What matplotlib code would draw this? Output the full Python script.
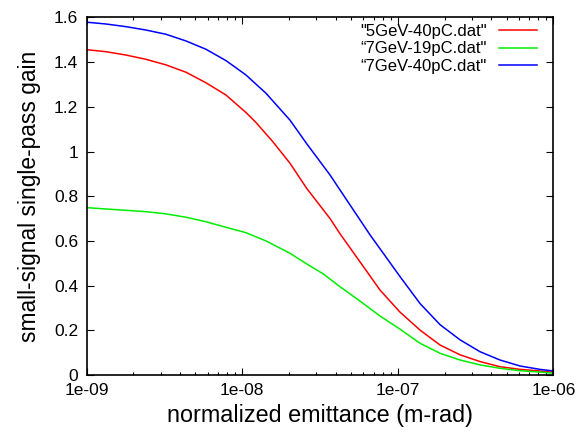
import matplotlib
matplotlib.use('Agg')
import matplotlib.pyplot as plt
import numpy as np

plt.rcParams['font.family'] = ['Liberation Sans', 'DejaVu Sans']

# log10 of normalized emittance, and gain
log_b = [-9.0, -8.876, -8.747, -8.619, -8.49, -8.361, -8.233, -8.104, -7.976,
         -7.847, -7.693, -7.585, -7.435, -7.371, -7.178, -7.114, -6.985,
         -6.857, -6.728, -6.599, -6.471, -6.343, -6.213, -6.085, -6.0]
gain_b = [1.579, 1.571, 1.559, 1.544, 1.525, 1.495, 1.458, 1.407, 1.343,
          1.261, 1.141, 1.035, 0.895, 0.828, 0.627, 0.565, 0.44,
          0.32, 0.225, 0.157, 0.104, 0.067, 0.040, 0.025, 0.018]

log_r = [-9.0, -8.876, -8.747, -8.619, -8.49, -8.361, -8.233, -8.104, -7.976,
         -7.911, -7.804, -7.693, -7.585, -7.435, -7.371, -7.178, -7.114, -6.985,
         -6.857, -6.728, -6.599, -6.471, -6.343, -6.213, -6.085, -6.0]
gain_r = [1.456, 1.447, 1.432, 1.413, 1.388, 1.355, 1.308, 1.253, 1.175,
          1.13, 1.045, 0.948, 0.835, 0.70, 0.632, 0.443, 0.38, 0.281,
          0.201, 0.134, 0.090, 0.060, 0.037, 0.025, 0.018, 0.012]

log_g = [-9.0, -8.876, -8.747, -8.619, -8.49, -8.361, -8.233, -8.104, -7.976,
         -7.847, -7.693, -7.585, -7.478, -7.371, -7.253, -7.114, -6.985,
         -6.857, -6.728, -6.599, -6.471, -6.343, -6.213, -6.085, -6.0]
gain_g = [0.749, 0.743, 0.737, 0.731, 0.721, 0.706, 0.686, 0.661, 0.637,
          0.600, 0.545, 0.497, 0.452, 0.395, 0.336, 0.264, 0.205,
          0.142, 0.097, 0.067, 0.045, 0.030, 0.019, 0.013, 0.008]

xticks = [1e-9, 1e-8, 1e-7, 1e-6]
xticklabels = ['1e-09', '1e-08', '1e-07', '1e-06']
yticks = [0, 0.2, 0.4, 0.6, 0.8, 1.0, 1.2, 1.4, 1.6]
yticklabels = ['0', '0.2', '0.4', '0.6', '0.8', '1', '1.2', '1.4', '1.6']

f = plt.figure(figsize=(5.77, 4.32), dpi=100)
ax = f.add_axes([0.150, 0.132, 0.809, 0.8275])

ax.plot(10 ** np.array(log_r), gain_r, color='#ff0000', lw=1.1, label='"5GeV-40pC.dat"')
ax.plot(10 ** np.array(log_g), gain_g, color='#00ee00', lw=1.1, label='\u201c7GeV-19pC.dat"')
ax.plot(10 ** np.array(log_b), gain_b, color='#0000ff', lw=1.1, label='\u201c7GeV-40pC.dat"')

ax.set_xscale('log')
ax.set_xlim(1e-9, 1e-6)
ax.set_ylim(0, 1.6)
ax.set_xticks(xticks)
ax.set_xticklabels(xticklabels)
ax.set_yticks(yticks)
ax.set_yticklabels(yticklabels)
ax.tick_params(which='both', direction='in', top=True, right=True, labelsize=12.5)
ax.tick_params(which='major', length=5, width=0.8, pad=6)
ax.tick_params(which='minor', length=2.5, width=0.8)
for s in ax.spines.values():
    s.set_linewidth(1.2)

ax.set_xlabel('normalized emittance (m-rad)', fontsize=16.8, labelpad=4)
ax.set_ylabel('small-signal single-pass gain', fontsize=16.4, labelpad=9)

leg = ax.legend(loc='upper right', bbox_to_anchor=(0.965, 0.982), frameon=False,
                markerfirst=False, fontsize=12, handlelength=2.3, labelspacing=0.15,
                borderaxespad=0, borderpad=0, handletextpad=0.7)

f.savefig('out.png', dpi=100)
